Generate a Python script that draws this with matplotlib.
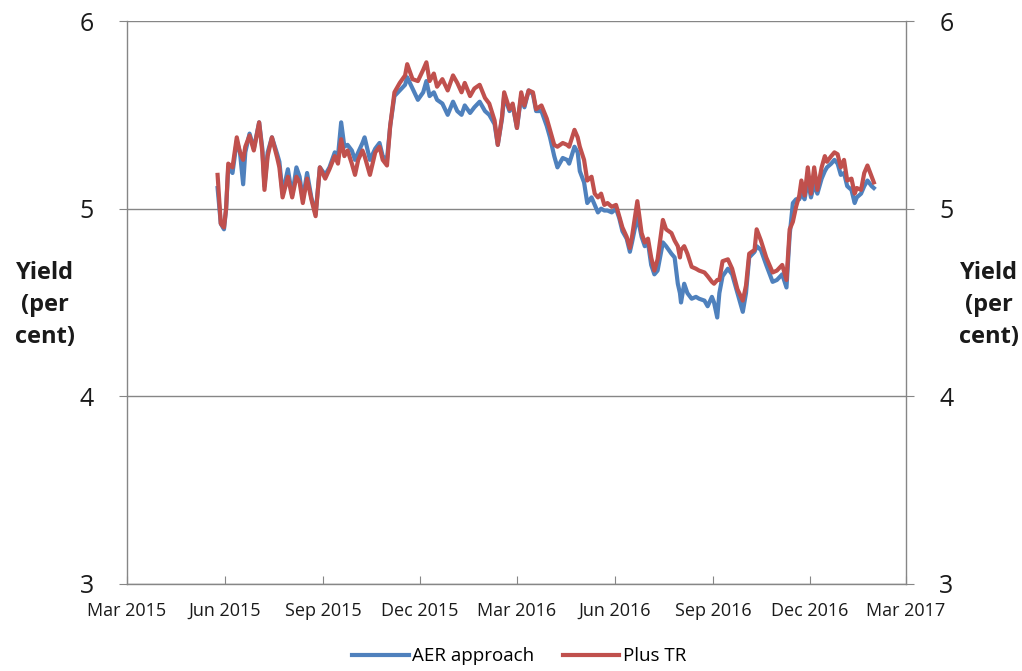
import matplotlib
matplotlib.use("Agg")
import matplotlib.pyplot as plt
import pandas as pd

# days since 2015-03-01
days = [85, 88, 91, 93, 95, 99, 103, 106, 109, 111, 115, 119, 124, 127, 129, 132, 136, 141, 143, 146,
        151, 155, 159, 162, 165, 169, 173, 177, 181, 186, 190, 195, 198, 201, 204, 207, 211, 214, 217, 221,
        223, 228, 233, 237, 240, 244, 247, 251, 256, 261, 263, 268, 273, 278, 281, 284, 288, 291, 296, 301,
        306, 310, 314, 317, 322, 326, 331, 336, 340, 345, 348, 352, 354, 359, 362, 366, 370, 373, 377, 381,
        384, 389, 394, 397, 401, 404, 409, 413, 415, 420, 423, 425, 429, 432, 436, 439, 442, 445, 448, 451,
        455, 459, 462, 465, 469, 472, 474, 479, 483, 486, 489, 492, 495, 498, 503, 506, 511, 514, 517, 519,
        520, 523, 526, 530, 534, 537, 542, 545, 549, 551, 554, 556, 559, 564, 568, 573, 578, 581, 584, 589,
        591, 595, 600, 606, 610, 615, 619, 622, 625, 628, 631, 633, 636, 639, 642, 645, 648, 652, 655, 657,
        661, 664, 667, 670, 673, 676, 680, 683, 685, 689, 692, 695, 699, 701]

plus_tr = [5.18, 4.92, 4.90, 5.00, 5.24, 5.22, 5.38, 5.30, 5.26, 5.33, 5.39, 5.31, 5.46, 5.30, 5.10, 5.28, 5.38, 5.27, 5.22, 5.06,
           5.17, 5.06, 5.17, 5.14, 5.03, 5.16, 5.05, 4.96, 5.22, 5.16, 5.21, 5.28, 5.24, 5.37, 5.28, 5.31, 5.24, 5.18, 5.26, 5.31,
           5.28, 5.18, 5.30, 5.33, 5.26, 5.23, 5.44, 5.62, 5.67, 5.71, 5.77, 5.69, 5.68, 5.74, 5.78, 5.68, 5.72, 5.65, 5.69, 5.63,
           5.71, 5.67, 5.62, 5.67, 5.60, 5.64, 5.66, 5.59, 5.56, 5.47, 5.34, 5.49, 5.62, 5.53, 5.56, 5.43, 5.62, 5.55, 5.63, 5.62,
           5.53, 5.55, 5.48, 5.42, 5.34, 5.33, 5.35, 5.34, 5.33, 5.42, 5.38, 5.33, 5.26, 5.15, 5.17, 5.08, 5.06, 5.08, 5.02, 5.03,
           5.01, 5.02, 4.96, 4.90, 4.85, 4.79, 4.85, 5.04, 4.87, 4.82, 4.84, 4.74, 4.67, 4.73, 4.94, 4.89, 4.87, 4.83, 4.80, 4.74,
           4.78, 4.80, 4.76, 4.69, 4.68, 4.67, 4.66, 4.64, 4.61, 4.60, 4.62, 4.62, 4.72, 4.73, 4.68, 4.57, 4.51, 4.59, 4.76, 4.78,
           4.89, 4.83, 4.74, 4.66, 4.67, 4.70, 4.62, 4.89, 4.93, 5.01, 5.07, 5.15, 5.07, 5.22, 5.08, 5.22, 5.10, 5.22, 5.28, 5.25,
           5.28, 5.30, 5.29, 5.22, 5.26, 5.15, 5.16, 5.08, 5.11, 5.10, 5.19, 5.23, 5.17, 5.14]

aer = [5.11, 4.92, 4.89, 5.00, 5.22, 5.19, 5.36, 5.30, 5.13, 5.30, 5.40, 5.32, 5.46, 5.32, 5.12, 5.30, 5.38, 5.29, 5.25, 5.08,
       5.21, 5.07, 5.22, 5.17, 5.05, 5.19, 5.06, 4.97, 5.22, 5.18, 5.22, 5.30, 5.28, 5.46, 5.33, 5.34, 5.31, 5.26, 5.30, 5.35,
       5.38, 5.26, 5.32, 5.35, 5.28, 5.26, 5.44, 5.60, 5.63, 5.66, 5.70, 5.64, 5.58, 5.62, 5.68, 5.60, 5.62, 5.58, 5.56, 5.50,
       5.57, 5.52, 5.50, 5.55, 5.51, 5.54, 5.57, 5.52, 5.50, 5.45, 5.34, 5.48, 5.60, 5.52, 5.55, 5.43, 5.60, 5.54, 5.63, 5.61,
       5.52, 5.52, 5.44, 5.38, 5.28, 5.22, 5.27, 5.26, 5.24, 5.33, 5.30, 5.20, 5.14, 5.03, 5.06, 5.02, 4.98, 5.00, 4.99, 4.99,
       4.98, 5.00, 4.95, 4.88, 4.84, 4.77, 4.82, 4.96, 4.85, 4.80, 4.82, 4.70, 4.65, 4.67, 4.82, 4.80, 4.76, 4.74, 4.60, 4.55,
       4.50, 4.60, 4.55, 4.52, 4.53, 4.52, 4.51, 4.48, 4.53, 4.50, 4.42, 4.55, 4.64, 4.68, 4.65, 4.55, 4.45, 4.55, 4.74, 4.77,
       4.80, 4.78, 4.70, 4.61, 4.62, 4.65, 4.58, 4.86, 5.03, 5.05, 5.05, 5.08, 5.05, 5.15, 5.06, 5.13, 5.08, 5.16, 5.20, 5.22,
       5.24, 5.26, 5.24, 5.18, 5.19, 5.12, 5.10, 5.03, 5.06, 5.08, 5.12, 5.15, 5.12, 5.11]

series_names = ["AER approach", "Plus TR"]
yticks = [3, 4, 5, 6]
xtick_dates = ["2015-03-01", "2015-06-01", "2015-09-01", "2015-12-01", "2016-03-01",
               "2016-06-01", "2016-09-01", "2016-12-01", "2017-03-01"]

dates = pd.Timestamp("2015-03-01") + pd.to_timedelta(days, unit="D")

plt.rcParams['font.family'] = ['Open Sans', 'DejaVu Sans']
fig = plt.figure(figsize=(10.22, 6.71), dpi=100)
ax = fig.add_axes([0.1243, 0.1297, 0.762, 0.839])

blue = "#4F81BD"
red = "#C0504D"
grey = "#868686"

ax.plot(dates, aer, color=blue, lw=3, label=series_names[0], solid_joinstyle="round")
ax.plot(dates, plus_tr, color=red, lw=3, label=series_names[1], solid_joinstyle="round")

xt = pd.to_datetime(xtick_dates)
ax.set_xlim(xt[0], xt[-1])
ax.set_ylim(3, 6)
ax.set_yticks(yticks)
ax.set_xticks(xt)
ax.set_xticklabels([d.strftime("%b %Y") for d in xt], fontsize=13, color="#1a1a1a")
ax.set_yticklabels([str(v) for v in yticks], fontsize=18, color="#1a1a1a")

ax.yaxis.grid(True, color=grey, lw=1)
ax.set_axisbelow(True)
for s in ["left", "right", "bottom"]:
    ax.spines[s].set_color(grey)
    ax.spines[s].set_linewidth(1)
ax.spines["top"].set_visible(False)

ax.tick_params(axis="x", direction="in", length=6, color=grey, pad=13)
ax.tick_params(axis="y", direction="out", length=6, color=grey, pad=18,
               right=True, labelright=True)

fig.text(0.044, 0.545, "Yield\n(per\ncent)", ha="center", va="center", fontsize=17,
         fontweight="bold", linespacing=1.45, color="#1a1a1a")
fig.text(0.968, 0.545, "Yield\n(per\ncent)", ha="center", va="center", fontsize=17,
         fontweight="bold", linespacing=1.45, color="#1a1a1a")

fig.legend(loc="center", bbox_to_anchor=(0.508, 0.022), ncol=2, frameon=False,
           fontsize=13.5, handlelength=3, handletextpad=0.2, columnspacing=1.5)

fig.savefig("out.png", dpi=100)
